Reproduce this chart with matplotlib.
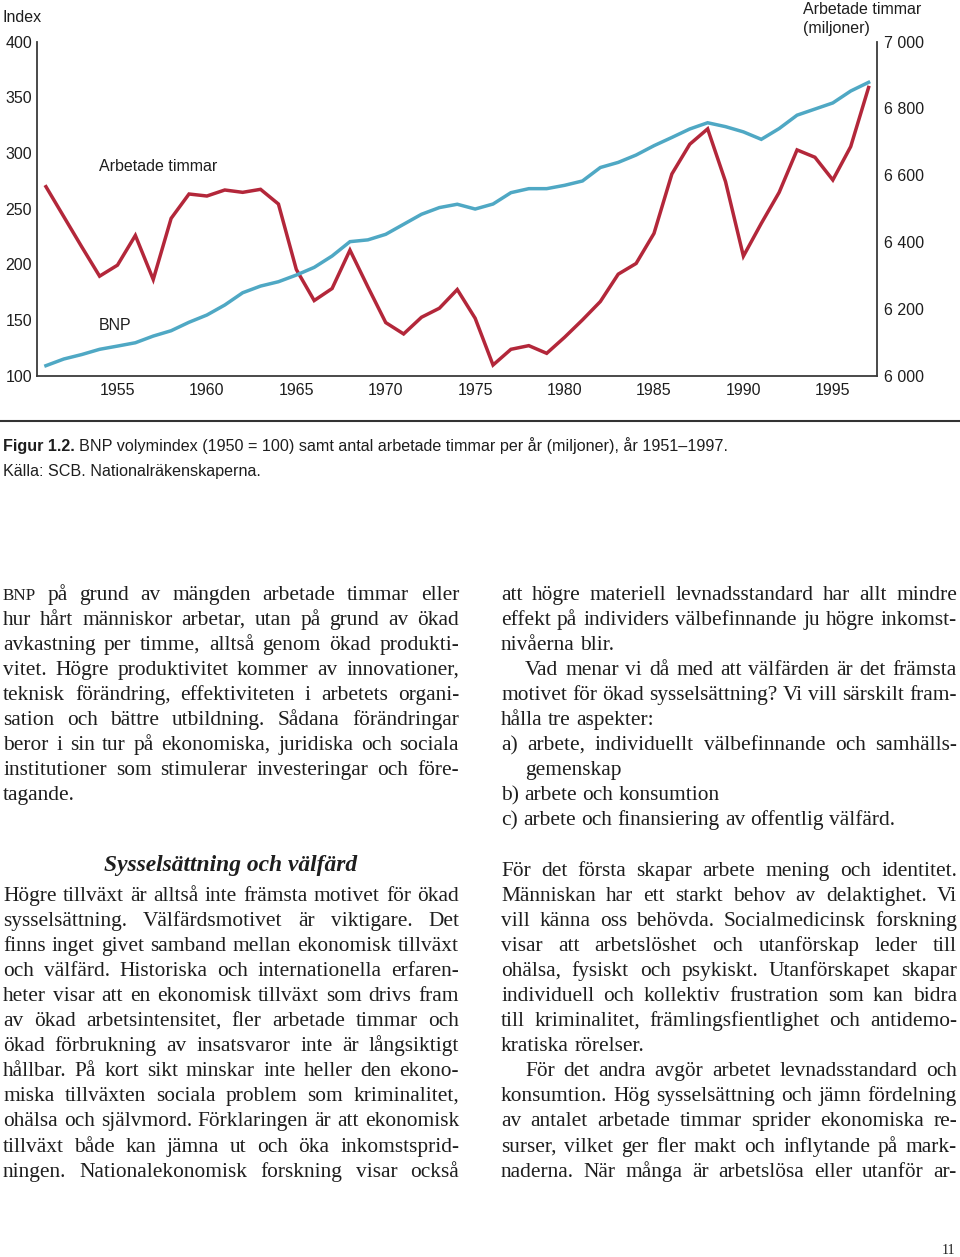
import math
import matplotlib
matplotlib.use("Agg")
import matplotlib.pyplot as plt
from matplotlib import font_manager as fm
from matplotlib.backends.backend_agg import get_hinting_flag

# ---------------- data ----------------
years = list(range(1951, 1998))
bnp_index = [109, 115, 119, 123.7, 126.6, 129.6, 135.6, 140.4, 148, 154.5,
             163.5, 174.5, 180.5, 184.4, 190.4, 197.3, 207.5, 220.4, 222, 227,
             236, 245, 251, 254, 249.7, 254.2, 264.4, 268, 268, 271,
             274.9, 287, 291.6, 298.2, 306.6, 314, 321.6, 327.2, 323.7, 319,
             312.3, 322, 334, 339.5, 345, 355.7, 363.5]
hours_mill = [6566, 6476, 6386, 6298, 6331, 6420, 6288, 6471, 6544, 6538,
              6556, 6549, 6558, 6514, 6318, 6225, 6261, 6376, 6266, 6159,
              6125, 6175, 6202, 6258, 6172, 6032, 6079, 6090, 6067, 6115,
              6167, 6222, 6304, 6336, 6426, 6604, 6693, 6739, 6581, 6358,
              6456, 6549, 6676, 6654, 6586, 6686, 6863]
left_ticks = [100, 150, 200, 250, 300, 350, 400]
right_ticks = [6000, 6200, 6400, 6600, 6800, 7000]
right_ticklabels = ["6 000", "6 200", "6 400", "6 600", "6 800", "7 000"]
x_ticks = [1955, 1960, 1965, 1970, 1975, 1980, 1985, 1990, 1995]

W, H = 960, 1257
SANS = "Liberation Sans"
SERIF = "Liberation Serif"
try:
    fm.findfont("Liberation Sans Narrow", fallback_to_default=False)
    NARROW = "Liberation Sans Narrow"
except Exception:
    NARROW = SANS

RED = "#b3273a"
BLUE = "#4fa8c4"
INK = "#1e1e1e"
AXC = "#3a3a3a"

fig = plt.figure(figsize=(W / 100, H / 100), dpi=100)
fig.patch.set_facecolor("white")

# ---------------- chart ----------------
ax_l, ax_r, ax_t, ax_b = 37, 877, 41.7, 375.7
ax = fig.add_axes([ax_l / W, 1 - ax_b / H, (ax_r - ax_l) / W, (ax_b - ax_t) / H])
ax2 = ax.twinx()
ax.set_zorder(ax2.get_zorder() + 1)
ax.patch.set_visible(False)

ax2.plot(years, hours_mill, color=RED, lw=2.5, solid_joinstyle="miter")
ax.plot(years, bnp_index, color=BLUE, lw=2.5, solid_joinstyle="miter")

ax.set_xlim(1950.5, 1997.47)
ax.set_ylim(100, 400)
ax2.set_ylim(6000, 7000)
ax.set_yticks(left_ticks)
ax.set_yticklabels([str(v) for v in left_ticks])
ax2.set_yticks(right_ticks)
ax2.set_yticklabels(right_ticklabels)
ax.set_xticks(x_ticks)
ax.set_xticklabels([str(v) for v in x_ticks])

for a in (ax, ax2):
    a.spines["top"].set_visible(False)
    for s in a.spines.values():
        s.set_color(AXC)
        s.set_linewidth(1.3)
ax.spines["right"].set_visible(False)
ax2.spines["left"].set_visible(False)
ax2.spines["bottom"].set_visible(False)

ax.tick_params(axis="y", length=0, pad=3.5, labelsize=11.5, labelcolor=INK)
ax.tick_params(axis="x", length=0, pad=5, labelsize=11.5, labelcolor=INK)
ax2.tick_params(axis="y", length=0, pad=5, labelsize=11.5, labelcolor=INK)
for lab in ax.get_yticklabels() + ax.get_xticklabels() + ax2.get_yticklabels():
    lab.set_family(SANS)

ax.text(1953.94, 287.8, "Arbetade timmar", fontsize=11.5, family=SANS,
        color=INK, ha="left", va="center")
ax.text(1953.94, 145, "BNP", fontsize=11.5, family=SANS,
        color=INK, ha="left", va="center")

fig.text(3 / W, 1 - 17 / H, "Index", fontsize=11.5, family=SANS, color=INK,
         ha="left", va="center")
fig.text(803 / W, 1 - 19 / H, "Arbetade timmar\n(miljoner)", fontsize=11.5,
         family=SANS, color=INK, ha="left", va="center", linespacing=1.25)

# horizontal rule under chart
fig.add_artist(plt.Line2D([0, 1], [1 - 421 / H, 1 - 421 / H],
                          transform=fig.transFigure, color="#333333", lw=1.5))

renderer = fig.canvas.get_renderer()


def width_of(t):
    return t.get_window_extent(renderer).width


def snap_error(word, prop):
    """Pixel offset that Agg's integer snapping adds to a word's glyphs."""
    try:
        font = fm.get_font(fm.findfont(prop))
        font.clear()
        font.set_size(prop.get_size_in_points(), 100)
        font.set_text(word, 0.0, flags=get_hinting_flag())
        d = font.get_descent() / 64.0
        hh = font.get_width_height()[1] / 64.0
        return round(d) - math.floor(hh) + math.floor(hh - d)
    except Exception:
        return 0


# ---------------- caption ----------------
cap_size = 11
t1 = fig.text(3 / W, 1 - 451 / H, "Figur 1.2.", fontsize=cap_size, family=NARROW,
              weight="bold", color=INK, va="baseline", ha="left")
t2 = fig.text(0, 1 - 451 / H,
              "BNP volymindex (1950 = 100) samt antal arbetade timmar per år (miljoner), år 1951–1997.",
              fontsize=cap_size, family=NARROW, color=INK, va="baseline", ha="left")
total = width_of(t1) + 4 + width_of(t2)
scale = 722 / total
for t in (t1, t2):
    t.set_fontsize(cap_size * scale)
t2.set_x((3 + width_of(t1) + 4) / W)
fig.text(3 / W, 1 - 476 / H, "Källa: SCB. Nationalräkenskaperna.",
         fontsize=cap_size * scale, family=NARROW, color=INK,
         va="baseline", ha="left")

# ---------------- body text ----------------
BODY = 15.4


def put_line(text, x0, x1, base, justify, size=BODY):
    base = round(base)
    words = text.split()
    objs = []
    for w in words:
        s = size * 0.8 if w == "BNP" else size
        objs.append(fig.text(0, 1 - base / H, w, fontsize=s, family=SERIF,
                             color=INK, va="baseline", ha="left"))
    widths = [width_of(o) for o in objs]
    nat_gap = size * 100 / 72 * 0.25
    if justify and len(objs) > 1:
        gap = (x1 - x0 - sum(widths)) / (len(objs) - 1)
        if gap < 2.5:
            k = (x1 - x0 - 3.0 * (len(objs) - 1)) / sum(widths)
            for o in objs:
                o.set_fontsize(o.get_fontsize() * k)
            widths = [width_of(o) for o in objs]
            gap = (x1 - x0 - sum(widths)) / (len(objs) - 1)
    else:
        gap = nat_gap
    x = x0
    for o, w in zip(objs, widths):
        e = snap_error(o.get_text(), o.get_fontproperties())
        o.set_position((x / W, 1 - (base - e) / H))
        x += w + gap


LX0, LX1 = 3, 459
RX0, RX1 = 501, 957
IND = 24

left_block1 = [
    ("BNP på grund av mängden arbetade timmar eller", 0, True),
    ("hur hårt människor arbetar, utan på grund av ökad", 0, True),
    ("avkastning per timme, alltså genom ökad produkti-", 0, True),
    ("vitet. Högre produktivitet kommer av innovationer,", 0, True),
    ("teknisk förändring, effektiviteten i arbetets organi-", 0, True),
    ("sation och bättre utbildning. Sådana förändringar", 0, True),
    ("beror i sin tur på ekonomiska, juridiska och sociala", 0, True),
    ("institutioner som stimulerar investeringar och före-", 0, True),
    ("tagande.", 0, False),
]
left_block2 = [
    ("Högre tillväxt är alltså inte främsta motivet för ökad", 0, True),
    ("sysselsättning. Välfärdsmotivet är viktigare. Det", 0, True),
    ("finns inget givet samband mellan ekonomisk tillväxt", 0, True),
    ("och välfärd. Historiska och internationella erfaren-", 0, True),
    ("heter visar att en ekonomisk tillväxt som drivs fram", 0, True),
    ("av ökad arbetsintensitet, fler arbetade timmar och", 0, True),
    ("ökad förbrukning av insatsvaror inte är långsiktigt", 0, True),
    ("hållbar. På kort sikt minskar inte heller den ekono-", 0, True),
    ("miska tillväxten sociala problem som kriminalitet,", 0, True),
    ("ohälsa och självmord. Förklaringen är att ekonomisk", 0, True),
    ("tillväxt både kan jämna ut och öka inkomstsprid-", 0, True),
    ("ningen. Nationalekonomisk forskning visar också", 0, True),
]
right_block1 = [
    ("att högre materiell levnadsstandard har allt mindre", 0, True),
    ("effekt på individers välbefinnande ju högre inkomst-", 0, True),
    ("nivåerna blir.", 0, False),
    ("Vad menar vi då med att välfärden är det främsta", IND, True),
    ("motivet för ökad sysselsättning? Vi vill särskilt fram-", 0, True),
    ("hålla tre aspekter:", 0, False),
    ("a) arbete, individuellt välbefinnande och samhälls-", 0, True),
    ("gemenskap", IND, False),
    ("b) arbete och konsumtion", 0, False),
    ("c) arbete och finansiering av offentlig välfärd.", 0, False),
]
right_block2 = [
    ("För det första skapar arbete mening och identitet.", 0, True),
    ("Människan har ett starkt behov av delaktighet. Vi", 0, True),
    ("vill känna oss behövda. Socialmedicinsk forskning", 0, True),
    ("visar att arbetslöshet och utanförskap leder till", 0, True),
    ("ohälsa, fysiskt och psykiskt. Utanförskapet skapar", 0, True),
    ("individuell och kollektiv frustration som kan bidra", 0, True),
    ("till kriminalitet, främlingsfientlighet och antidemo-", 0, True),
    ("kratiska rörelser.", 0, False),
    ("För det andra avgör arbetet levnadsstandard och", IND, True),
    ("konsumtion. Hög sysselsättning och jämn fördelning", 0, True),
    ("av antalet arbetade timmar sprider ekonomiska re-", 0, True),
    ("surser, vilket ger fler makt och inflytande på mark-", 0, True),
    ("naderna. När många är arbetslösa eller utanför ar-", 0, True),
]

LEAD = 25.05


def put_block(lines, x0, x1, base0):
    for i, (txt, ind, just) in enumerate(lines):
        put_line(txt, x0 + ind, x1, base0 + i * LEAD, just)


put_block(left_block1, LX0, LX1, 600)
put_block(left_block2, LX0, LX1, 901)
put_block(right_block1, RX0, RX1, 600)
put_block(right_block2, RX0, RX1, 876)

# heading
hd = fig.text(231 / W, 1 - 871 / H, "Sysselsättning och välfärd", fontsize=16,
              family=SERIF, style="italic", weight="bold", color=INK,
              va="baseline", ha="center")
hd.set_fontsize(16 * 254 / width_of(hd))

# page number
fig.text(955 / W, 1 - 1254 / H, "11", fontsize=10, family=SERIF, color=INK,
         va="baseline", ha="right")

fig.savefig("out.png", dpi=100, facecolor="white")
